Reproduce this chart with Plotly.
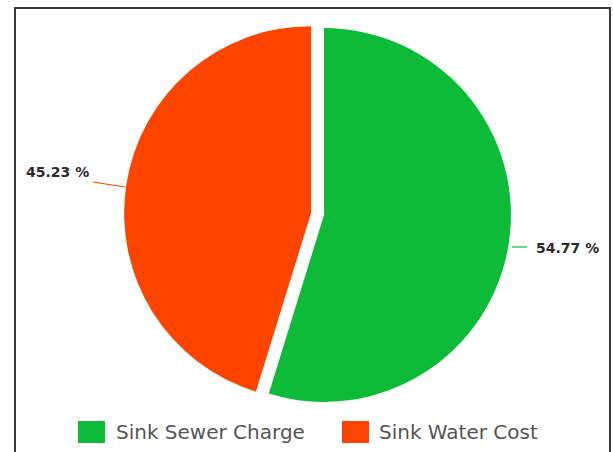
import plotly.graph_objects as go

# Data
labels = ["Sink Sewer Charge", "Sink Water Cost"]
values = [54.77, 45.23]
colors = ["#0dbb38", "#ff4400"]
pulls = [0, 0.07]

W, H = 613, 452


def px(x):
    return x / W


def py(y):
    return 1 - y / H


fig = go.Figure(
    go.Pie(
        labels=labels,
        values=values,
        sort=False,
        direction="clockwise",
        rotation=0,
        pull=pulls,
        marker=dict(colors=colors, line=dict(width=0)),
        textinfo="none",
        hoverinfo="label+percent",
        showlegend=False,
        domain=dict(x=[px(124), px(524)], y=[py(415), py(15)]),
    )
)

shapes = []
annotations = []

# frame
shapes.append(dict(type="rect", xref="paper", yref="paper",
                   x0=px(15), x1=px(610), y0=py(470), y1=py(8),
                   line=dict(color="#3a3a3a", width=2), fillcolor="rgba(0,0,0,0)",
                   layer="below"))

# data labels with connector lines
label_pos = [
    # (text left x, text center y, line start, line end)
    dict(tx=534, ty=248, line=((512, 247), (527, 247))),
    dict(tx=24, ty=172, line=((125, 187), (93, 182))),
]
for v, c, lp in zip(values, colors, label_pos):
    (x0, y0), (x1, y1) = lp["line"]
    shapes.append(dict(type="line", xref="paper", yref="paper",
                       x0=px(x0), y0=py(y0), x1=px(x1), y1=py(y1),
                       line=dict(color=c, width=1.2)))
    annotations.append(dict(xref="paper", yref="paper", x=px(lp["tx"]), y=py(lp["ty"]),
                            xanchor="left", yanchor="middle", showarrow=False,
                            text=f"<b>{v:.2f} %</b>",
                            font=dict(family="DejaVu Sans", size=14, color="#2a2a2a")))

# custom legend
legend_items = [(78, 114), (342, 377)]
for lab, c, (sx, tx) in zip(labels, colors, legend_items):
    shapes.append(dict(type="rect", xref="paper", yref="paper",
                       x0=px(sx), x1=px(sx + 27), y0=py(443), y1=py(421),
                       line=dict(width=0), fillcolor=c))
    annotations.append(dict(xref="paper", yref="paper", x=px(tx), y=py(432),
                            xanchor="left", yanchor="middle", showarrow=False,
                            text=lab,
                            font=dict(family="DejaVu Sans", size=20, color="#555555")))

fig.update_layout(
    width=W, height=H,
    margin=dict(l=0, r=0, t=0, b=0),
    paper_bgcolor="white",
    plot_bgcolor="white",
    shapes=shapes,
    annotations=annotations,
    showlegend=False,
)

fig.write_html("out.html")
